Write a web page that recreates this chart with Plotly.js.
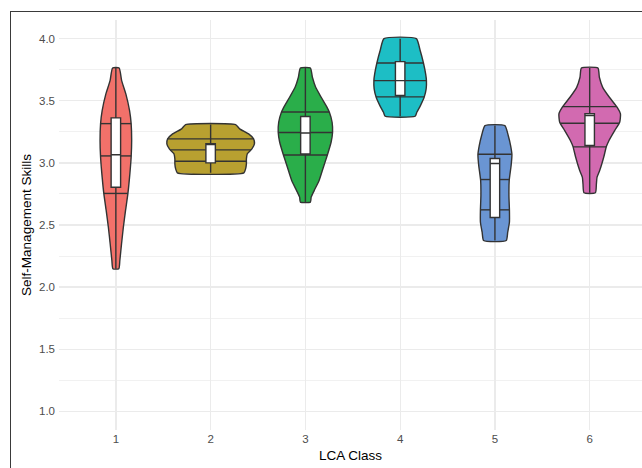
<!DOCTYPE html>
<html>
<head>
<meta charset="utf-8">
<script src="https://cdn.plot.ly/plotly-3.0.1.min.js"></script>
<style>
html,body{margin:0;padding:0;background:#fff;overflow:hidden;}
#chart{width:642px;height:468px;}
#frame{position:absolute;left:10px;top:11px;width:700px;height:500px;border-left:1.5px solid #3a3a3a;border-top:1.5px solid #3a3a3a;pointer-events:none;}
</style>
</head>
<body>
<div id="chart"></div>
<div id="frame"></div>
<script>
// ---- data ----
const classes = ['1', '2', '3', '4', '5', '6'];
const classPos = [1, 2, 3, 4, 5, 6];

// violin density profiles (value, relative density)
const profY1 = [3.764, 3.662, 3.555, 3.42, 3.316, 3.18, 3.045, 2.885, 2.75, 2.617, 2.482, 2.349, 2.214, 2.148];
const profW1 = [0.075, 0.132, 0.228, 0.313, 0.349, 0.361, 0.349, 0.313, 0.274, 0.221, 0.171, 0.130, 0.091, 0.068];
const profY2 = [3.308, 3.274, 3.233, 3.193, 3.153, 3.113, 3.073, 3.032, 2.992, 2.952, 2.92];
const profW2 = [0.571, 0.662, 0.868, 0.982, 1.0, 0.943, 0.838, 0.817, 0.817, 0.799, 0.760];
const profY3 = [3.764, 3.689, 3.608, 3.528, 3.447, 3.407, 3.327, 3.246, 3.166, 3.064, 2.965, 2.858, 2.777, 2.724, 2.684];
const profW3 = [0.114, 0.160, 0.235, 0.361, 0.495, 0.548, 0.610, 0.621, 0.587, 0.502, 0.411, 0.313, 0.201, 0.132, 0.114];
const profY4 = [4.0, 3.904, 3.804, 3.716, 3.662, 3.595, 3.528, 3.461, 3.407, 3.375];
const profW4 = [0.370, 0.457, 0.532, 0.582, 0.600, 0.594, 0.548, 0.463, 0.381, 0.342];
const profY5 = [3.30, 3.22, 3.139, 3.067, 2.979, 2.858, 2.737, 2.622, 2.522, 2.442, 2.375];
const profW5 = [0.228, 0.304, 0.358, 0.388, 0.370, 0.326, 0.320, 0.331, 0.331, 0.292, 0.258];
const profY6 = [3.764, 3.689, 3.608, 3.528, 3.447, 3.394, 3.327, 3.26, 3.18, 3.131, 3.045, 2.938, 2.884, 2.831, 2.759];
const profW6 = [0.189, 0.221, 0.297, 0.450, 0.628, 0.703, 0.685, 0.571, 0.441, 0.381, 0.320, 0.228, 0.167, 0.153, 0.130];

// violin quantile lines (25%, 50%, 75%)
const violinQ25 = [2.754, 3.013, 3.064, 3.531, 2.622, 3.129];
const violinQ50 = [3.056, 3.105, 3.245, 3.662, 2.866, 3.319];
const violinQ75 = [3.316, 3.193, 3.410, 3.804, 3.070, 3.453];

// boxplot statistics
const boxQ1 = [2.804, 3.000, 3.072, 3.542, 2.560, 3.140];
const boxMedian = [3.065, 3.150, 3.240, 3.662, 2.995, 3.380];
const boxQ3 = [3.362, 3.155, 3.373, 3.815, 3.035, 3.395];
const boxMin = [2.148, 2.920, 2.684, 3.375, 2.375, 2.759];
const boxMax = [3.764, 3.308, 3.764, 4.000, 3.300, 3.764];

// ---- styles ----
const fillColors = ['#F2716A', '#B8A030', '#2AAE4A', '#1DBEC5', '#6A95D3', '#D26AB0'];
const edgeColor = '#333333';
const halfMax = 0.462;
const fontFam = 'Liberation Sans, Arial, sans-serif';
const xRange = [0.4, 6.552];
const yRange = [0.85, 4.15];

const profY = [profY1, profY2, profY3, profY4, profY5, profY6];
const profW = [profW1, profW2, profW3, profW4, profW5, profW6];

function widthAt(ys, ws, y) {
  for (let k = 0; k < ys.length - 1; k++) {
    const a = ys[k], b = ys[k + 1];
    if ((y <= a && y >= b)) {
      const t = (a - y) / (a - b);
      return ws[k] + t * (ws[k + 1] - ws[k]);
    }
  }
  return ws[ws.length - 1];
}

const traces = [];
for (let i = 0; i < classes.length; i++) {
  const c = classPos[i], ys = profY[i], ws = profW[i];
  const xs = [], yy = [];
  for (let k = 0; k < ys.length; k++) { xs.push(c + ws[k] * halfMax); yy.push(ys[k]); }
  for (let k = ys.length - 1; k >= 0; k--) { xs.push(c - ws[k] * halfMax); yy.push(ys[k]); }
  xs.push(xs[0]); yy.push(yy[0]);
  traces.push({
    type: 'scatter', mode: 'lines', x: xs, y: yy, fill: 'toself',
    fillcolor: fillColors[i], line: {color: edgeColor, width: 1.4, shape: 'spline', smoothing: 0.5},
    hoverinfo: 'skip', showlegend: false
  });
}

// quantile lines
const qx = [], qy = [];
for (let i = 0; i < classes.length; i++) {
  [violinQ25[i], violinQ50[i], violinQ75[i]].forEach(q => {
    const w = widthAt(profY[i], profW[i], q) * halfMax;
    qx.push(classPos[i] - w, classPos[i] + w, null);
    qy.push(q, q, null);
  });
}
traces.push({type: 'scatter', mode: 'lines', x: qx, y: qy,
  line: {color: edgeColor, width: 1.4}, hoverinfo: 'skip', showlegend: false});

// boxplots (on an overlaid subplot so they sit above the violins)
traces.push({
  type: 'box', orientation: 'v', xaxis: 'x2', yaxis: 'y2',
  x: classPos, q1: boxQ1, median: boxMedian, q3: boxQ3,
  lowerfence: boxMin, upperfence: boxMax,
  fillcolor: '#FFFFFF', line: {color: edgeColor, width: 1.4},
  whiskerwidth: 0, width: 0.1, boxpoints: false, hoverinfo: 'skip', showlegend: false
});

const layout = {
  width: 642, height: 468,
  margin: {l: 59, r: 0, t: 20, b: 38},
  paper_bgcolor: '#FFFFFF', plot_bgcolor: '#FFFFFF',
  showlegend: false,
  font: {family: fontFam},
  xaxis: {
    range: xRange, tickmode: 'array', tickvals: classPos, ticktext: classes,
    showgrid: true, gridcolor: '#EBEBEB', gridwidth: 1.3, zeroline: false, showline: false,
    ticks: '', tickfont: {family: fontFam, size: 11.5, color: '#4D4D4D'},
    title: {text: 'LCA Class', font: {family: fontFam, size: 13.5, color: '#000000'}, standoff: 7},
    automargin: false, fixedrange: true
  },
  yaxis: {
    range: yRange, tickmode: 'linear', tick0: 1, dtick: 0.5, tickformat: '.1f',
    showgrid: true, gridcolor: '#EBEBEB', gridwidth: 1.3, zeroline: false, showline: false,
    minor: {dtick: 0.25, tick0: 1, showgrid: true, gridcolor: '#F1F1F1', gridwidth: 1},
    ticks: '', ticklabelstandoff: 3, tickfont: {family: fontFam, size: 11.5, color: '#4D4D4D'},
    title: {text: 'Self-Management Skills', font: {family: fontFam, size: 13.5, color: '#000000'}, standoff: 4},
    automargin: false, fixedrange: true
  },
  xaxis2: {overlaying: 'x', range: xRange, visible: false, showgrid: false, zeroline: false, fixedrange: true},
  yaxis2: {overlaying: 'y', range: yRange, visible: false, showgrid: false, zeroline: false, fixedrange: true}
};

Plotly.newPlot('chart', traces, layout, {displayModeBar: false, staticPlot: true});
</script>
</body>
</html>
